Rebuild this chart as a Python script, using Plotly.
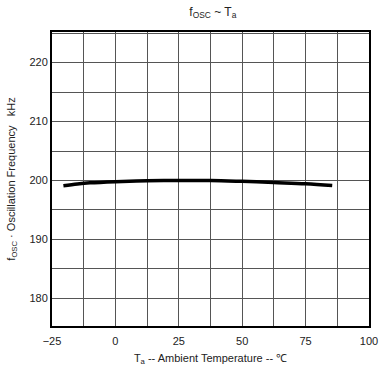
import plotly.graph_objects as go

temp = [-20.5, -15, -10, 0, 12.5, 25, 37.5, 50, 62.5, 75, 85.5]
freq = [199.1, 199.4, 199.6, 199.8, 199.95, 200.0, 200.0, 199.85, 199.65, 199.45, 199.15]

x_ticks = [-25, 0, 25, 50, 75, 100]
x_labels = ["\u221225", "0", "25", "50", "75", "100"]
y_ticks = [180, 190, 200, 210, 220]

fig = go.Figure()
fig.add_trace(go.Scatter(x=temp, y=freq, mode="lines",
                         line=dict(color="black", width=3.5, shape="spline"),
                         showlegend=False, hoverinfo="skip"))

font = dict(family="Liberation Sans, Arial, sans-serif", size=11, color="#222")

fig.update_layout(
    width=387, height=372,
    margin=dict(l=52, r=9, t=32, b=46),
    paper_bgcolor="white", plot_bgcolor="white",
    font=font,
    title=dict(text="f<sub>OSC</sub> ~ T<sub>a</sub>", x=0.55, xanchor="center",
               y=0.98, yanchor="top", font=dict(size=12, color="#222")),
    xaxis=dict(range=[-25, 100], tickvals=x_ticks, ticktext=x_labels,
               showgrid=True, gridcolor="#555", gridwidth=1,
               showline=True, linecolor="black", linewidth=2, mirror=True,
               ticks="outside", ticklen=4, tickcolor="rgba(0,0,0,0)", zeroline=False,
               minor=dict(dtick=12.5, tick0=-25, showgrid=True, gridcolor="#555", gridwidth=1),
               title=dict(text="T<sub>a</sub> -- Ambient Temperature -- \u2103", standoff=8,
                          font=dict(size=11, color="#222"))),
    yaxis=dict(range=[175.3, 225.2], tickvals=y_ticks,
               showgrid=True, gridcolor="#555", gridwidth=1,
               showline=True, linecolor="black", linewidth=2, mirror=True,
               ticks="", zeroline=False,
               minor=dict(dtick=5, tick0=175, showgrid=True, gridcolor="#555", gridwidth=1),
               title=dict(text="f<sub>OSC</sub> \u00b7 Oscillation Frequency   kHz", standoff=12,
                          font=dict(size=11, color="#222"))),
)

fig.write_html("out.html")
